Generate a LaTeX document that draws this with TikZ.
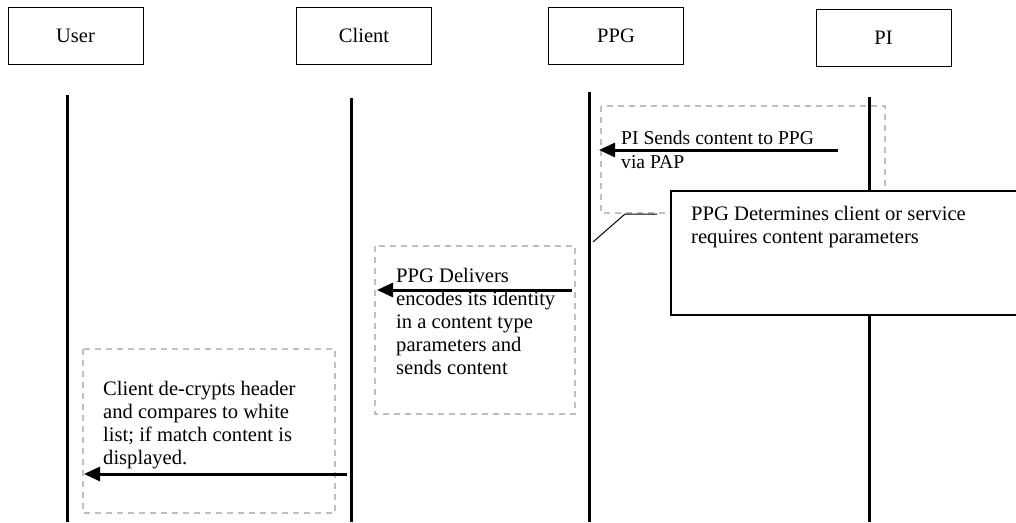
\documentclass[tikz,border=0pt]{standalone}
\usepackage{fontspec}
\setmainfont{Liberation Serif}
\usetikzlibrary{arrows.meta}
\tikzset{
  head/.style={draw, line width=1pt, minimum width=135pt, minimum height=57pt, inner sep=0pt, font=\fontsize{20.5}{23}\selectfont},
  life/.style={line width=3pt},
  msg/.style={line width=3pt, -{Triangle[length=16pt,width=14pt]}},
  frame/.style={draw=black!25, line width=2pt, dash pattern=on 6pt off 5pt},
  txt/.style={inner sep=0pt, anchor=north west, align=left, font=\fontsize{20.6}{23}\selectfont},
  callout/.style={draw, line width=1.2pt, fill=white},
  pointer/.style={line width=1pt}
}
\begin{document}
\begin{tikzpicture}[x=1pt,y=-1pt]
\useasboundingbox (0,0) rectangle (1016,522);
% header boxes
\node[head] (user) at (75.5,35.5) {User};
\node[head] (client) at (364,35.5) {Client};
\node[head] (ppg) at (616,35.5) {PPG};
\node[head] (pi) at (883.5,37.5) {PI};
% lifeline coordinates
\coordinate (uT) at (67,95);   \coordinate (uB) at (67,522);
\coordinate (cT) at (351,98);  \coordinate (cB) at (351,522);
\coordinate (gT) at (589,92);  \coordinate (gB) at (589,522);
\coordinate (pT) at (869,97);  \coordinate (pB) at (869,522);
% dashed frames
\draw[frame] (601,106) rectangle (885,213);
\draw[frame] (375,246) rectangle (575,414);
\draw[frame] (83,349) rectangle (335,513);
% lifelines
\draw[life] (uT) -- (uB);
\draw[life] (cT) -- (cB);
\draw[life] (gT) -- (gB);
\draw[life] (pT) -- (pB);
% messages
\coordinate (m1s) at (838,150); \coordinate (m1e) at (599,150);
\coordinate (m2s) at (572,290); \coordinate (m2e) at (377,290);
\coordinate (m3s) at (347,474); \coordinate (m3e) at (84,474);
\draw[msg] (m1s) -- (m1e);
\draw[msg] (m2s) -- (m2e);
\draw[msg] (m3s) -- (m3e);
% texts
\node[txt, font=\fontsize{19.6}{24}\selectfont] (t1) at (621,127) {\strut PI Sends content to PPG\\via PAP};
\node[txt] (t2) at (396,266) {\strut PPG Delivers\\encodes its identity\\in a content type\\parameters and\\sends content};
\node[txt] (t3) at (103,379) {\strut Client de-crypts header\\and compares to white\\list; if match content is\\displayed.};
% callout
\draw[callout] (671,191) rectangle (1030,315);
\node[txt] (t4) at (691,204) {\strut PPG Determines client or service\\requires content parameters};
\coordinate (pa) at (593,242); \coordinate (pb) at (625,214); \coordinate (pc) at (657,214);
\draw[pointer] (pa) -- (pb) -- (pc);
\end{tikzpicture}
\end{document}
